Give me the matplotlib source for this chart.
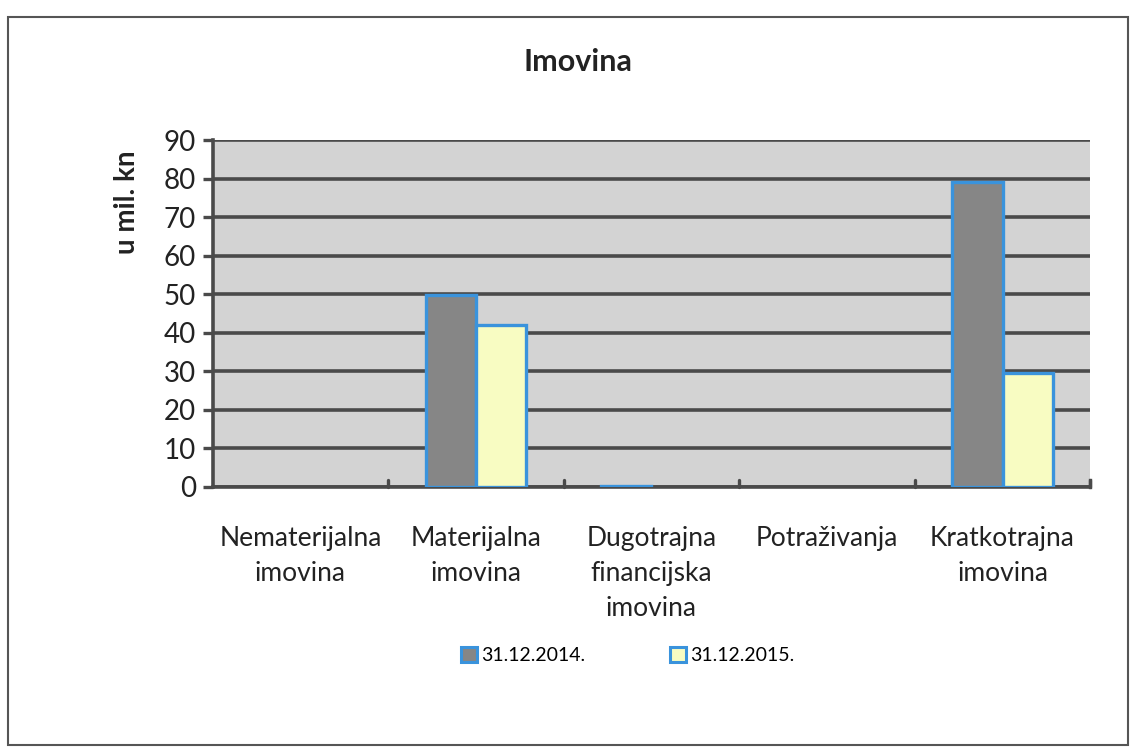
import matplotlib
matplotlib.use("Agg")
import matplotlib.pyplot as plt
from matplotlib.patches import Patch, Rectangle
import numpy as np

plt.rcParams['font.family'] = ['Lato', 'DejaVu Sans']

categories = ["Nematerijalna\nimovina", "Materijalna\nimovina", "Dugotrajna\nfinancijska\nimovina",
              "Potraživanja", "Kratkotrajna\nimovina"]
series_names = ["31.12.2014.", "31.12.2015."]
values_2014 = [0, 49.8, 0.3, 0, 79]
values_2015 = [0, 42, 0, 0, 29.5]
yticks = [0, 10, 20, 30, 40, 50, 60, 70, 80, 90]

fill_colors = ["#868686", "#f8fcc2"]
edge_color = "#3a93dc"
grid_color = "#4a4a4a"

fig = plt.figure(figsize=(11.31, 7.49), dpi=100)
fig.patch.set_facecolor("white")
ax = fig.add_axes([0.188, 0.350, 0.776, 0.463])
ax.set_facecolor("#d3d3d3")

x = np.arange(len(categories))
w = 0.286
for i, (vals, fc) in enumerate(zip([values_2014, values_2015], fill_colors)):
    offs = (i - 0.5) * w
    for xi, v in zip(x, vals):
        if v > 0:
            ax.bar(xi + offs, v, width=w, color=fc, edgecolor=edge_color, linewidth=2.4, zorder=3)

ax.set_xlim(-0.5, len(categories) - 0.5)
ax.set_ylim(0, 90)
ax.set_yticks(yticks)
ax.set_yticklabels([str(t) for t in yticks], fontsize=20, color="#222222")
ax.yaxis.grid(True, color=grid_color, linewidth=2.6, zorder=1)
ax.set_axisbelow(True)
ax.tick_params(axis='y', length=7, width=2.4, color=grid_color, pad=5)

ax.set_xticks(x)
ax.set_xticklabels(categories, fontsize=19, color="#222222", linespacing=1.5)
ax.tick_params(axis='x', length=0, pad=28)
# category boundary tick marks (small upward stubs)
for b in np.arange(0.5, len(categories) - 0.5 + 1e-9, 1.0):
    ax.plot([b, b], [0, 1.8], color=grid_color, linewidth=2.4, zorder=2, clip_on=False,
            solid_capstyle='round')
ax.plot([len(categories) - 0.5] * 2, [0, 1.8], color=grid_color, linewidth=2.4, zorder=2, clip_on=False)

for s in ["top", "right"]:
    ax.spines[s].set_visible(False)
for s in ["left", "bottom"]:
    ax.spines[s].set_color(grid_color)
    ax.spines[s].set_linewidth(2.6)

ax.set_ylabel("u mil. kn", fontsize=20, fontweight="bold", color="#222222")
ax.yaxis.set_label_coords(-0.083, 0.82)
fig.text(0.511, 0.917, "Imovina", ha="center", va="center", fontsize=22, fontweight="bold", color="#222222")

handles = [Patch(facecolor=fc, edgecolor=edge_color, linewidth=2.2) for fc in fill_colors]
fig.legend(handles, series_names, loc="center", bbox_to_anchor=(0.555, 0.125), ncol=2,
           frameon=False, fontsize=14, handlelength=0.8, handleheight=0.8,
           handletextpad=0.2, columnspacing=4.4)

# outer frame of the chart
fig.patches.append(Rectangle((0.007, 0.005), 0.99, 0.972, transform=fig.transFigure,
                             fill=False, edgecolor="#555555", linewidth=1.5))

fig.savefig("out.png", dpi=100)
